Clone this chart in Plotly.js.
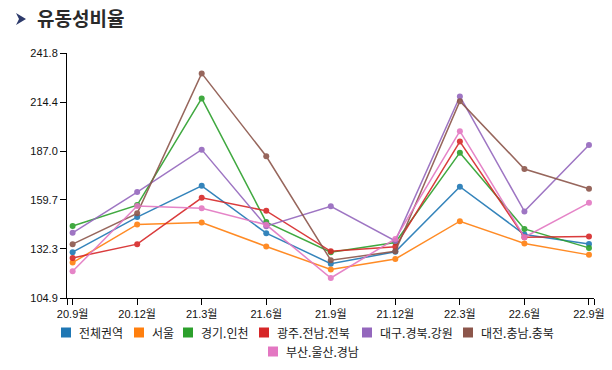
<!DOCTYPE html>
<html>
<head>
<meta charset="utf-8">
<script src="https://cdn.plot.ly/plotly-3.0.1.min.js"></script>
<style>html,body{margin:0;padding:0;background:#fff;}#chart{width:612px;height:370px;}</style>
</head>
<body>
<div id="chart"></div>
<script>
const categories = ['20.9월','20.12월','21.3월','21.6월','21.9월','21.12월','22.3월','22.6월','22.9월'];
const seriesNames = ['전체권역','서울','경기.인천','광주.전남.전북','대구.경북.강원','대전.충남.충북','부산.울산.경남'];
const total    = [130.5,150.1,167.6,141.1,124.1,130.7,167.1,140.4,135.1];
const seoul    = [124.7,146.0,147.1,133.7,120.8,126.7,147.8,135.4,129.0];
const gyeonggi = [145.1,156.8,216.4,147.3,130.5,135.9,186.1,143.5,132.9];
const gwangju  = [127.3,135.0,160.9,153.6,131.0,133.5,192.3,138.9,139.3];
const daegu    = [141.3,164.1,187.8,145.0,156.1,136.8,217.5,153.3,190.4];
const daejeon  = [135.0,152.2,230.4,184.1,126.0,131.0,214.9,177.0,165.9];
const busan    = [119.8,156.3,155.1,145.8,116.1,137.9,198.1,138.9,158.1];
const yTicks = [104.9,132.3,159.7,187.0,214.4,241.8];
const yTickText = ['104.9','132.3','159.7','187.0','214.4','241.8'];

const seriesValues = [total, seoul, gyeonggi, gwangju, daegu, daejeon, busan];
const colors = ['#1f77b4','#ff7f0e','#2ca02c','#d62728','#9467bd','#8c564b','#e377c2'];

// layout geometry (pixels)
const M = {l: 67, r: 18, t: 53, b: 72};
const W = 612, H = 370;
const PW = W - M.l - M.r, PH = H - M.t - M.b;
const px2x = p => (p - M.l) / PW;
const py2y = p => (H - M.b - p) / PH;
const legendSquareX = [61, 134, 183, 259, 362, 463, 268];
const legendRowY = [332.5, 332.5, 332.5, 332.5, 332.5, 332.5, 351.5];

const xIdx = categories.map((_, i) => i);
const xMin = -0.087, xMax = categories.length - 1 + 0.078;
const FONT = 'Liberation Sans, Arial, Noto Sans CJK KR, sans-serif';
const KFONT = 'Noto Sans CJK KR, sans-serif';

const traces = seriesValues.map((vals, k) => ({
  x: xIdx, y: vals, type: 'scatter', mode: 'lines+markers', name: seriesNames[k],
  line: {color: colors[k], width: 1.5},
  marker: {color: colors[k], size: 6},
  showlegend: false, hoverinfo: 'skip', opacity: 0.9
}));

const shapes = [{
  type: 'path', xref: 'paper', yref: 'paper',
  path: `M ${px2x(16)},${py2y(13)} L ${px2x(26)},${py2y(19)} L ${px2x(16)},${py2y(25)} L ${px2x(19)},${py2y(19)} Z`,
  fillcolor: '#2d3a6b', line: {width: 0}
}];
const annotations = [];
seriesNames.forEach((name, k) => {
  const sx = legendSquareX[k], cy = legendRowY[k];
  shapes.push({type: 'rect', xref: 'paper', yref: 'paper',
    x0: px2x(sx), x1: px2x(sx + 10), y0: py2y(cy + 5), y1: py2y(cy - 5),
    fillcolor: colors[k], line: {width: 0}});
  annotations.push({text: name, xref: 'paper', yref: 'paper',
    x: px2x(sx + 16), y: py2y(cy), xanchor: 'left', yanchor: 'middle',
    showarrow: false, font: {family: KFONT, size: 12, color: '#1a1a1a'}});
});

const layout = {
  width: W, height: H, margin: M,
  paper_bgcolor: '#fff', plot_bgcolor: '#fff',
  font: {family: FONT, color: '#222', size: 11},
  showlegend: false,
  title: {text: '<b>유동성비율</b>', x: 37/612, xanchor: 'left', xref: 'container',
          y: 1 - 19/370, yanchor: 'middle', yref: 'container',
          font: {family: KFONT, size: 19, color: '#2a2a2a'}},
  xaxis: {
    range: [xMin, xMax], showgrid: false, zeroline: false,
    showline: true, linecolor: '#000', linewidth: 1,
    ticks: 'outside', ticklen: 6, tickcolor: '#000',
    tickvals: [xMin].concat(xIdx, [xMax]),
    ticktext: [''].concat(categories, ['']),
    tickfont: {family: FONT, size: 11, color: '#111'}
  },
  yaxis: {
    range: [104.9, 241.8], showgrid: false, zeroline: false,
    showline: true, linecolor: '#000', linewidth: 1,
    ticks: 'outside', ticklen: 6, tickcolor: '#000',
    tickvals: yTicks, ticktext: yTickText,
    tickfont: {family: FONT, size: 11, color: '#111'}
  },
  shapes: shapes,
  annotations: annotations
};

Plotly.newPlot('chart', traces, layout, {displayModeBar: false, staticPlot: true});
</script>
</body>
</html>
